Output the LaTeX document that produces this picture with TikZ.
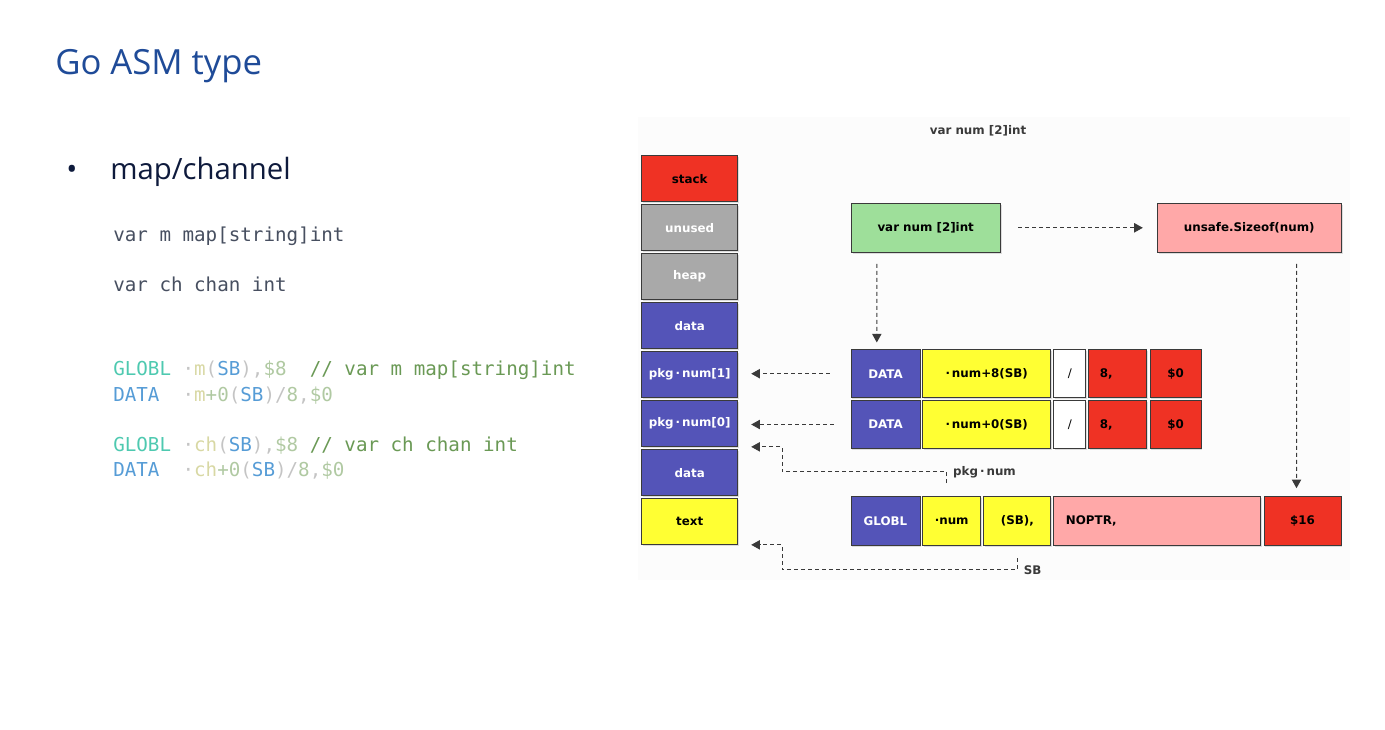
\documentclass[tikz,border=0pt]{standalone}
\usepackage{fontspec}
\setmainfont{Open Sans}
\setsansfont{DejaVu Sans}
\setmonofont{DejaVu Sans Mono}
\usepackage{xcolor}
\usetikzlibrary{arrows.meta,calc,shadows}
\definecolor{GoTitle}{HTML}{1F4B98}
\definecolor{GoText}{HTML}{0E1A3C}
\definecolor{CodeGray}{HTML}{474F60}
\definecolor{CodeTeal}{HTML}{4EC9B0}
\definecolor{CodeBlue}{HTML}{569CD6}
\definecolor{CodeIdent}{HTML}{D8D8A4}
\definecolor{CodePunct}{HTML}{C4C4C4}
\definecolor{CodeNum}{HTML}{B0C9A2}
\definecolor{CodeComment}{HTML}{6A9955}
\definecolor{MemRed}{HTML}{EF3224}
\definecolor{MemGray}{HTML}{A9A9A9}
\definecolor{MemBlue}{HTML}{5454B8}
\definecolor{MemYellow}{HTML}{FFFF33}
\definecolor{MemGreen}{HTML}{9EDF9A}
\definecolor{MemPink}{HTML}{FFA8A8}
\definecolor{MemLine}{HTML}{3A3A3A}
\definecolor{MemPanel}{HTML}{FCFCFC}
\newcommand{\diagfont}{\sffamily\bfseries\fontsize{8.9}{10}\selectfont}
\newcommand{\codefont}{\ttfamily\fontsize{14.4}{17}\selectfont}
\newcommand{\cTeal}[1]{\textcolor{CodeTeal}{#1}}
\newcommand{\cBlue}[1]{\textcolor{CodeBlue}{#1}}
\newcommand{\cIdent}[1]{\textcolor{CodeIdent}{#1}}
\newcommand{\cPunct}[1]{\textcolor{CodePunct}{#1}}
\newcommand{\cNum}[1]{\textcolor{CodeNum}{#1}}
\newcommand{\cCmt}[1]{\textcolor{CodeComment}{#1}}

\begin{document}
\begin{tikzpicture}[x=0.75pt, y=-0.75pt,
  mem/.style={draw=MemLine, line width=0.75pt, fill=#1, inner sep=0pt,
              minimum width=72pt, minimum height=34.1pt, font=\diagfont,
              drop shadow={shadow xshift=1.1pt, shadow yshift=-1.1pt,
                           opacity=0.25}},
  cell/.style={mem=#1, minimum height=35.6pt},
  arr/.style={-{Triangle[length=6.5pt,width=7pt]}, draw=MemLine,
              line width=0.75pt, dash pattern=on 3pt off 2.25pt},
  lbl/.style={font=\diagfont, inner sep=0pt, text=MemLine},
  code/.style={font=\codefont, anchor=base west, inner sep=0pt}
]
\useasboundingbox (0,0) rectangle (1385,729);

% Slide text
\node[anchor=base west, inner sep=0pt, text=GoTitle,
      font=\fontsize{26}{30}\selectfont] (title) at (55,74) {Go ASM type};
\node[anchor=base west, inner sep=0pt, text=GoText,
      font=\fontsize{22}{26}\selectfont] (bullet) at (66,179) {•};
\node[anchor=base west, inner sep=0pt, text=GoText,
      font=\fontsize{22}{26}\selectfont] (topic) at (110,179) {map/channel};

% Go declarations
\node[code, text=CodeGray] (declm) at (113,241.7) {var~m~map[string]int};
\node[code, text=CodeGray] (declch) at (113,291.7) {var~ch~chan~int};

% Assembly
\node[code] (globlm) at (113,375) {\cTeal{GLOBL}~\cPunct{·}\cIdent{m}\cPunct{(}\cBlue{SB}\cPunct{),}\cNum{\$8}~~\cCmt{//~var~m~map[string]int}};
\node[code] (datam) at (113,401.5) {\cBlue{DATA}~~\cPunct{·}\cIdent{m}\cNum{+0}\cPunct{(}\cBlue{SB}\cPunct{)/}\cNum{8}\cPunct{,}\cNum{\$0}};
\node[code] (globlch) at (113,451.5) {\cTeal{GLOBL}~\cPunct{·}\cIdent{ch}\cPunct{(}\cBlue{SB}\cPunct{),}\cNum{\$8}~\cCmt{//~var~ch~chan~int}};
\node[code] (datach) at (113,476.7) {\cBlue{DATA}~~\cPunct{·}\cIdent{ch}\cNum{+0}\cPunct{(}\cBlue{SB}\cPunct{)/}\cNum{8}\cPunct{,}\cNum{\$0}};

% Diagram panel
\fill[MemPanel] (638,117) rectangle (1350,580);
\node[lbl, anchor=base] (caption) at (978,134.5) {var num [2]int};

% Memory segments
\node[mem=MemRed] (stackseg) at (689.7,178.6) {stack};
\node[mem=MemGray, text=white] (unusedseg) at (689.7,227.6) {unused};
\node[mem=MemGray, text=white] (heapseg) at (689.7,276.6) {heap};
\node[mem=MemBlue, text=white] (dataseg) at (689.7,325.6) {data};
\node[mem=MemBlue, text=white] (pkgone) at (689.7,374.6) {pkg\,·\,num[1]};
\node[mem=MemBlue, text=white] (pkgzero) at (689.7,423.6) {pkg\,·\,num[0]};
\node[mem=MemBlue, text=white] (datab) at (689.7,472.6) {data};
\node[mem=MemYellow] (textseg) at (689.7,521.6) {text};

% Declaration and size
\node[cell=MemGreen, minimum width=112pt, minimum height=36.75pt]
  (decl) at (925.7,227.8) {var num [2]int};
\node[cell=MemPink, minimum width=137.8pt, minimum height=36.75pt]
  (sizeof) at (1249.2,227.8) {unsafe.Sizeof(num)};

% DATA num+8
\node[cell=MemBlue, text=white, minimum width=51.75pt] (dataone) at (885.5,373.7) {DATA};
\node[cell=MemYellow, minimum width=96pt] (offone) at (986.7,373.7) {·\,num+8(SB)};
\node[cell=white, minimum width=23.8pt] (slashone) at (1069.8,373.7) {\mdseries /};
\node[cell=MemRed, minimum width=43.3pt, text width=27pt, align=left] (widone) at (1117.8,373.7) {8,};
\node[cell=MemRed, minimum width=38.25pt] (valone) at (1175.5,373.7) {\$0};

% DATA num+0
\node[cell=MemBlue, text=white, minimum width=51.75pt] (datazero) at (885.5,424.5) {DATA};
\node[cell=MemYellow, minimum width=96pt] (offzero) at (986.7,424.5) {·\,num+0(SB)};
\node[cell=white, minimum width=23.8pt] (slashzero) at (1069.8,424.5) {\mdseries /};
\node[cell=MemRed, minimum width=43.3pt, text width=27pt, align=left] (widzero) at (1117.8,424.5) {8,};
\node[cell=MemRed, minimum width=38.25pt] (valzero) at (1175.5,424.5) {\$0};

% GLOBL
\node[cell=MemBlue, text=white, minimum width=51.75pt, minimum height=36.75pt] (globl) at (885.5,521.2) {GLOBL};
\node[cell=MemYellow, minimum width=43.5pt, minimum height=36.75pt] (gnum) at (951.7,521.2) {·num};
\node[cell=MemYellow, minimum width=50pt, minimum height=36.75pt] (gsb) at (1017.3,521.2) {(SB),};
\node[cell=MemPink, minimum width=155pt, minimum height=36.75pt, text width=137pt, align=left] (noptr) at (1157.3,521.2) {NOPTR,};
\node[cell=MemRed, minimum width=57.75pt, minimum height=36.75pt] (sixteen) at (1302.5,521.2) {\$16};

% Connectors
\draw[arr] ($(decl.east)+(17.4,0)$) -- ($(sizeof.west)+(-14,0)$);
\draw[arr] ($(decl.south west)+(26.3,11)$) -- ($(dataone.north west)+(26.3,-7)$);
\draw[arr] ($(sizeof.south west)+(139.7,11)$) -- ($(sixteen.north west)+(33,-8)$);
\draw[arr] ($(dataone.west)+(-21,0)$) -- ($(dataone.west -| pkgone.east)+(13,0)$);
\draw[arr] ($(datazero.west)+(-17,0)$) -- ($(datazero.west -| pkgzero.east)+(13,0)$);
\draw[arr] ($(gnum.north)+(-5,-13)$) |- node[lbl, anchor=west, xshift=4.5pt] {pkg\,·\,num}
  ($(pkgzero.south east)+(44,25)$) |- ($(pkgzero.south east)+(13,0)$);
\draw[arr] ($(gsb.south)+(0,12)$) |- node[lbl, anchor=west, xshift=4.5pt] {SB}
  ($(textseg.south east)+(44,25)$) |- ($(textseg.south east)+(13,0)$);

\end{tikzpicture}
\end{document}
